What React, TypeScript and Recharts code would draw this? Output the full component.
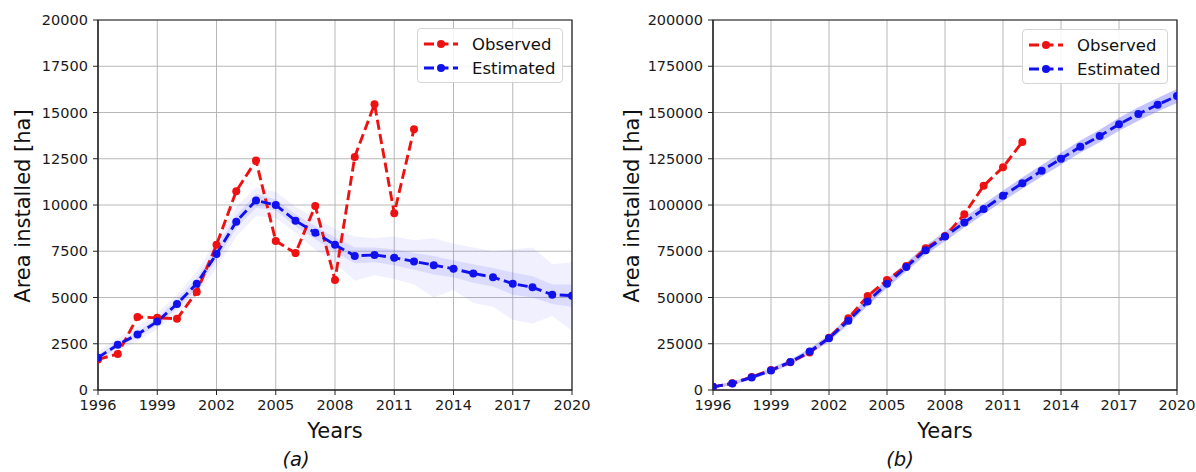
import React from 'react';
import {
  ComposedChart,
  Line,
  Area,
  XAxis,
  YAxis,
  CartesianGrid,
  Legend,
  Label,
  ReferenceArea,
} from 'recharts';

// ---------- data ----------
const years = [
  1996, 1997, 1998, 1999, 2000, 2001, 2002, 2003, 2004, 2005, 2006, 2007, 2008,
  2009, 2010, 2011, 2012, 2013, 2014, 2015, 2016, 2017, 2018, 2019, 2020,
];
const xTicks = [1996, 1999, 2002, 2005, 2008, 2011, 2014, 2017, 2020];
const yTicksA = [0, 2500, 5000, 7500, 10000, 12500, 15000, 17500, 20000];
const yTicksB = [0, 25000, 50000, 75000, 100000, 125000, 150000, 175000, 200000];

// (a) annual area
const observedA = [
  1650, 1950, 3950, 3900, 3850, 5300, 7850, 10750, 12400, 8050, 7400, 9950,
  5950, 12600, 15450, 9550, 14100,
];
const estimatedA = [
  1750, 2450, 3000, 3700, 4650, 5750, 7350, 9100, 10250, 10000, 9150, 8500,
  7850, 7250, 7300, 7150, 6950, 6750, 6550, 6300, 6100, 5750, 5550, 5150, 5100,
];
const ensOuterLowA = [
  1450, 2100, 2650, 3300, 4150, 5150, 6600, 8300, 9400, 9300, 8500, 7600, 6900,
  5900, 6200, 6000, 5700, 5000, 5400, 4700, 4500, 3800, 3600, 4000, 3200,
];
const ensOuterHighA = [
  2050, 2800, 3400, 4150, 5150, 6400, 8100, 9900, 10950, 10700, 9900, 9300,
  8700, 8300, 8200, 8300, 8100, 8200, 7900, 7700, 7500, 7600, 7700, 6800, 6900,
];
const ensInnerLowA = [
  1600, 2300, 2850, 3500, 4400, 5450, 7000, 8750, 9850, 9700, 8850, 8150, 7450,
  6850, 6900, 6750, 6500, 6250, 6100, 5800, 5600, 5150, 5000, 4650, 4500,
];
const ensInnerHighA = [
  1900, 2600, 3150, 3900, 4900, 6050, 7700, 9450, 10600, 10300, 9500, 8850,
  8250, 7700, 7700, 7600, 7400, 7250, 7000, 6800, 6600, 6350, 6150, 5700, 5700,
];

// (b) cumulative area
const observedB = [
  1700, 3600, 7000, 10800, 15000, 20300, 28200, 38800, 50800, 59400, 67000,
  76600, 83200, 95000, 110400, 120400, 134100,
];
const estimatedB = [
  1700, 3500, 6800, 10600, 15100, 20800, 28000, 37400, 47800, 57500, 66500,
  75600, 83000, 90500, 97800, 105000, 111800, 118500, 125000, 131500, 137300,
  143600, 149200, 154200, 158900,
];
const ensLowB = [
  900, 2600, 5700, 9300, 13700, 19200, 26200, 35400, 45600, 55200, 64100,
  73100, 80400, 87800, 95000, 102100, 108800, 115400, 121800, 128200, 133900,
  140100, 145600, 150500, 155100,
];
const ensHighB = [
  2500, 4400, 7900, 11900, 16500, 22400, 29800, 39400, 50000, 59800, 68900,
  78100, 85600, 93200, 100600, 107900, 114800, 121600, 128200, 134800, 140700,
  147100, 152800, 157900, 162700,
];

const seriesNames = ['Observed', 'Estimated'];

// ---------- styles ----------
const RED = '#ee1111';
const BLUE = '#1111ee';
const FONT = 'DejaVu Sans, Verdana, sans-serif';
const AXIS_COLOR = '#222';
const tickStyle = { fontSize: 14.5, fill: '#1a1a1a', fontFamily: FONT };
const DASH = '10 4.5';

const dataA = years.map((year, i) => ({
  year,
  obs: observedA[i],
  est: estimatedA[i],
  outer: [ensOuterLowA[i], ensOuterHighA[i]],
  inner: [ensInnerLowA[i], ensInnerHighA[i]],
}));

const dataB = years.map((year, i) => ({
  year,
  obs: observedB[i],
  est: estimatedB[i],
  band: [ensLowB[i], ensHighB[i]],
}));

const LegendBox = ({ width }: { width: number }) => (
  <div
    style={{
      boxSizing: 'border-box',
      width,
      height: 55,
      border: '1px solid #d4d4d4',
      borderRadius: 4,
      background: 'rgba(255,255,255,0.85)',
      fontFamily: FONT,
      fontSize: 16.5,
      color: '#111',
      position: 'relative',
    }}
  >
    {seriesNames.map((name, i) => {
      const color = i === 0 ? RED : BLUE;
      return (
        <div
          key={name}
          style={{
            position: 'absolute',
            left: 0,
            top: i === 0 ? 3 : 27,
            height: 24,
            display: 'flex',
            alignItems: 'center',
            whiteSpace: 'nowrap',
          }}
        >
          <svg width={54} height={24} style={{ flex: 'none' }}>
            <line
              x1={6}
              x2={40}
              y1={12}
              y2={12}
              stroke={color}
              strokeWidth={2.8}
              strokeDasharray={DASH}
            />
            <circle cx={23} cy={12} r={4} fill={color} />
          </svg>
          <span>{name}</span>
        </div>
      );
    })}
  </div>
);

type PanelProps = {
  data: any[];
  yTicks: number[];
  yMax: number;
  yAxisWidth: number;
  rightMargin: number;
  yLabelX: number;
  yearsX: number;
  captionX: number;
  caption: string;
  legendLeft: number;
  legendTop: number;
  legendWidth: number;
  width: number;
  cumulative: boolean;
};

const Panel = (p: PanelProps) => (
  <ComposedChart
    width={p.width}
    height={472}
    data={p.data}
    margin={{ top: 20, right: p.rightMargin, bottom: 52, left: 0 }}
  >
    <CartesianGrid stroke="#b0b0b0" strokeWidth={0.9} />
    <XAxis
      dataKey="year"
      type="number"
      domain={[1996, 2020]}
      ticks={xTicks}
      interval={0}
      height={30}
      tick={tickStyle}
      tickSize={5}
      tickMargin={5}
      axisLine={{ stroke: AXIS_COLOR }}
      tickLine={{ stroke: AXIS_COLOR }}
      allowDataOverflow
    >
      <Label
        content={() => (
          <text
            x={p.yearsX}
            y={438}
            textAnchor="middle"
            style={{ fontFamily: FONT, fontSize: 21, fill: '#111' }}
          >
            Years
          </text>
        )}
      />
      <Label
        content={() => (
          <text
            x={p.captionX}
            y={466}
            textAnchor="middle"
            style={{
              fontFamily: FONT,
              fontSize: 19.5,
              fontStyle: 'italic',
              fill: '#111',
            }}
          >
            {p.caption}
          </text>
        )}
      />
    </XAxis>
    <YAxis
      type="number"
      domain={[0, p.yMax]}
      ticks={p.yTicks}
      interval={0}
      width={p.yAxisWidth}
      tick={tickStyle}
      tickSize={5}
      tickMargin={5}
      axisLine={{ stroke: AXIS_COLOR }}
      tickLine={{ stroke: AXIS_COLOR }}
      allowDataOverflow
    >
      <Label
        content={() => (
          <text
            x={p.yLabelX}
            y={206}
            transform={`rotate(-90 ${p.yLabelX} 206)`}
            textAnchor="middle"
            style={{ fontFamily: FONT, fontSize: 21, fill: '#111' }}
          >
            Area installed [ha]
          </text>
        )}
      />
    </YAxis>

    {p.cumulative ? (
      <Area
        type="linear"
        dataKey="band"
        stroke="none"
        fill="#6a6aff"
        fillOpacity={0.4}
        isAnimationActive={false}
        dot={false}
        activeDot={false}
        legendType="none"
      />
    ) : null}
    {!p.cumulative ? (
      <Area
        type="linear"
        dataKey="outer"
        stroke="none"
        fill="#5a5aff"
        fillOpacity={0.09}
        isAnimationActive={false}
        dot={false}
        activeDot={false}
        legendType="none"
      />
    ) : null}
    {!p.cumulative ? (
      <Area
        type="linear"
        dataKey="inner"
        stroke="none"
        fill="#5a5aff"
        fillOpacity={0.14}
        isAnimationActive={false}
        dot={false}
        activeDot={false}
        legendType="none"
      />
    ) : null}

    <Line
      type="linear"
      dataKey="obs"
      name="Observed"
      stroke={RED}
      strokeWidth={2.9}
      strokeDasharray={DASH}
      dot={{ r: 4, fill: RED, stroke: 'none', strokeWidth: 0 }}
      activeDot={false}
      isAnimationActive={false}
    />
    <Line
      type="linear"
      dataKey="est"
      name="Estimated"
      stroke={BLUE}
      strokeWidth={2.9}
      strokeDasharray={DASH}
      dot={{ r: 4, fill: BLUE, stroke: 'none', strokeWidth: 0 }}
      activeDot={false}
      isAnimationActive={false}
    />

    <ReferenceArea
      x1={1996}
      x2={2020}
      y1={0}
      y2={p.yMax}
      fill="none"
      stroke={AXIS_COLOR}
      strokeWidth={1.2}
      fillOpacity={0}
    />

    <Legend
      layout="horizontal"
      verticalAlign="middle"
      align="center"
      wrapperStyle={{
        position: 'absolute',
        left: p.legendLeft,
        top: p.legendTop,
        width: p.legendWidth,
        height: 55,
      }}
      content={() => <LegendBox width={p.legendWidth} />}
    />
  </ComposedChart>
);

export default function App() {
  return (
    <div
      style={{
        position: 'absolute',
        left: 0,
        top: 0,
        width: 1196,
        height: 472,
        background: '#fff',
        fontFamily: FONT,
        overflow: 'hidden',
      }}
    >
      <div style={{ position: 'absolute', left: 0, top: 0 }}>
        <Panel
          data={dataA}
          yTicks={yTicksA}
          yMax={20000}
          yAxisWidth={98}
          rightMargin={28}
          width={600}
          yLabelX={30}
          yearsX={335}
          captionX={296}
          caption="(a)"
          legendLeft={417}
          legendTop={28}
          legendWidth={146}
          cumulative={false}
        />
      </div>
      <div style={{ position: 'absolute', left: 600, top: 0 }}>
        <Panel
          data={dataB}
          yTicks={yTicksB}
          yMax={200000}
          yAxisWidth={113}
          rightMargin={19}
          width={596}
          yLabelX={39}
          yearsX={345}
          captionX={300}
          caption="(b)"
          legendLeft={422}
          legendTop={29}
          legendWidth={146}
          cumulative={true}
        />
      </div>
    </div>
  );
}
